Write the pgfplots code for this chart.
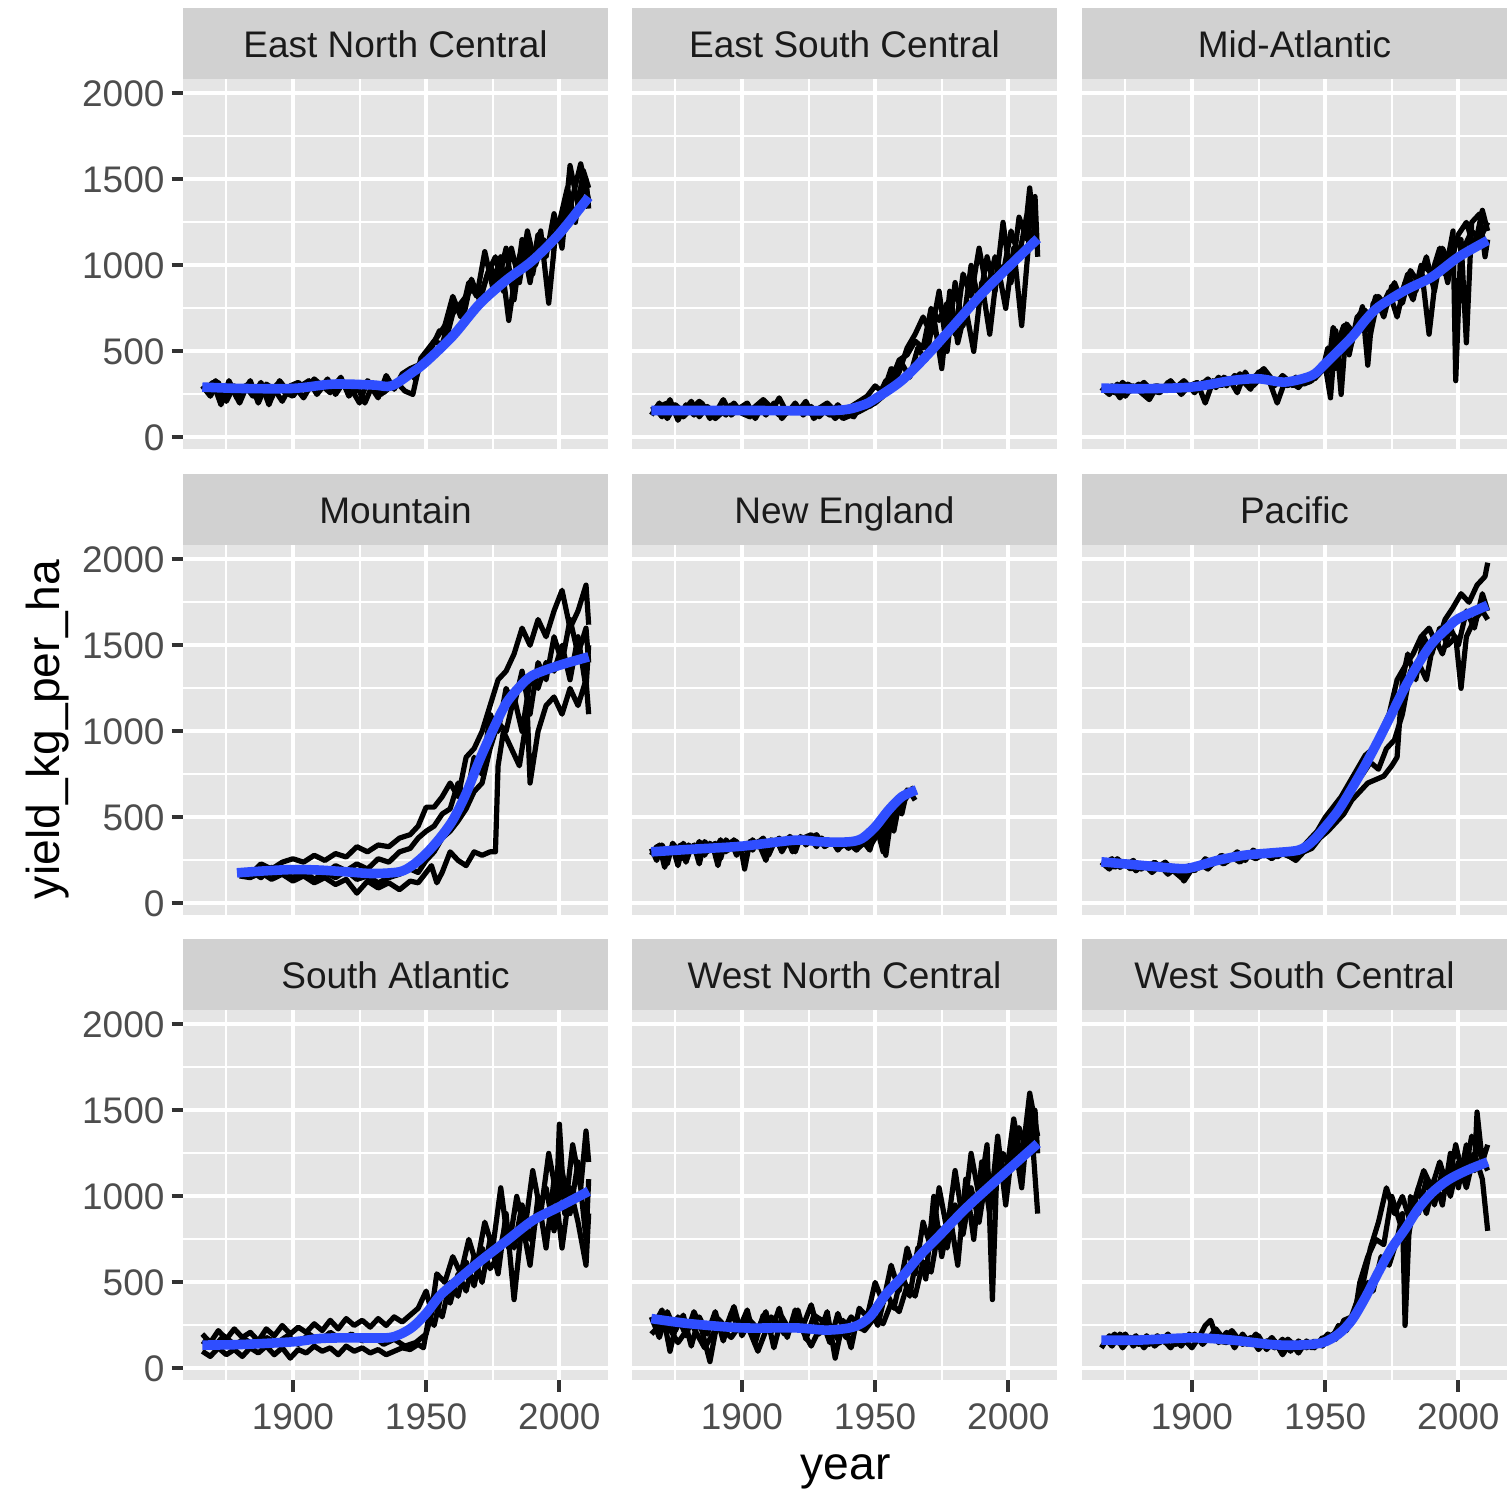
\documentclass[border=0pt]{standalone}
\usepackage{pgfplots}
\pgfplotsset{compat=1.18}
\usepackage{fontspec}
\setmainfont{Liberation Sans}
\definecolor{panelbg}{HTML}{E5E5E5}
\definecolor{stripbg}{HTML}{D1D1D1}
\definecolor{ticktext}{HTML}{4D4D4D}
\definecolor{striptext}{HTML}{1A1A1A}
\definecolor{tickcol}{HTML}{333333}
\definecolor{smoothblue}{HTML}{2F4EFF}
\newcommand\tfont{\fontsize{18.5}{20}\selectfont}
\pgfplotsset{
  ggpanel/.style={
    scale only axis, width=212.5pt, height=185pt,
    anchor=north west,
    xmin=1858.75, xmax=2018.25, ymin=-67, ymax=2083,
    axis background/.style={fill=panelbg},
    axis line style={draw=none},
    xtick={1900,1950,2000}, ytick={0,500,1000,1500,2000},
    minor xtick={1875,1925,1975}, minor ytick={250,750,1250,1750},
    grid=both,
    major grid style={white, line width=2pt},
    minor grid style={white, line width=1pt},
    tick align=outside, major tick length=5.75pt, minor tick length=0pt,
    xtick pos=left, ytick pos=left,
    tick style={tickcol, line width=2pt},
    xticklabels={1900,1950,2000}, yticklabels={0,500,1000,1500,2000},
    ticklabel style={font=\tfont, text=ticktext},
    xticklabel style={yshift=-2.5pt},
    every axis plot/.append style={line join=round, no markers},
  },
  noy/.style={yticklabels={}, ytick style={draw=none}},
  nox/.style={xticklabels={}, xtick style={draw=none}},
  blk/.style={black, line width=2.6pt},
  smth/.style={smoothblue, line width=4.8pt, smooth},
}
\begin{document}
\begin{tikzpicture}
\path[use as bounding box] (0pt,0pt) rectangle (755pt,-746.5pt);

% ---------------- Row 1 ----------------
% East North Central
\begin{axis}[ggpanel, nox, at={(91.5pt,-39.5pt)}]
\addplot[blk] coordinates {(1866,300)(1869,240)(1872,320)(1875,210)(1878,300)(1881,250)(1884,330)(1887,200)(1890,310)(1893,280)(1896,210)(1899,300)(1902,320)(1905,280)(1908,340)(1911,300)(1914,260)(1917,330)(1920,310)(1923,260)(1926,320)(1929,300)(1932,230)(1935,360)(1938,280)(1941,370)(1944,400)(1947,420)(1950,480)(1953,560)(1956,540)(1959,700)(1962,760)(1965,820)(1968,880)(1971,840)(1974,1000)(1977,900)(1980,1100)(1983,800)(1986,1150)(1989,900)(1992,1180)(1995,1050)(1998,1300)(2001,1100)(2004,1580)(2007,1350)(2010,1500)(2011,1330)};
\addplot[blk] coordinates {(1867,280)(1870,320)(1873,190)(1876,330)(1879,230)(1882,300)(1885,240)(1888,320)(1891,190)(1894,310)(1897,260)(1900,240)(1903,300)(1906,330)(1909,250)(1912,310)(1915,290)(1918,350)(1921,240)(1924,300)(1927,200)(1930,310)(1933,250)(1936,290)(1939,320)(1942,270)(1945,250)(1948,460)(1951,520)(1954,580)(1957,650)(1960,820)(1963,700)(1966,900)(1969,820)(1972,1080)(1975,870)(1978,1050)(1981,680)(1984,1000)(1987,1150)(1990,950)(1993,1200)(1996,780)(1999,1250)(2002,1200)(2005,1400)(2008,1590)(2011,1380)};
\addplot[blk] coordinates {(1868,260)(1871,330)(1874,230)(1877,290)(1880,200)(1883,310)(1886,250)(1889,290)(1892,230)(1895,330)(1898,270)(1901,290)(1904,230)(1907,310)(1910,280)(1913,340)(1916,250)(1919,320)(1922,280)(1925,200)(1928,330)(1931,290)(1934,260)(1937,300)(1940,330)(1943,380)(1946,340)(1949,470)(1952,520)(1955,620)(1958,600)(1961,780)(1964,700)(1967,920)(1970,800)(1973,950)(1976,1050)(1979,850)(1982,1100)(1985,900)(1988,1200)(1991,1000)(1994,1150)(1997,1100)(2000,1250)(2003,1450)(2006,1250)(2009,1550)(2011,1450)};
\addplot[smth] coordinates {(1866,293)(1880,285)(1900,285)(1915,310)(1930,305)(1937,300)(1945,380)(1950,440)(1960,590)(1970,775)(1980,913)(1990,1029)(2000,1184)(2011,1397)};
\end{axis}

% East South Central
\begin{axis}[ggpanel, nox, noy, at={(316pt,-39.5pt)}]
\addplot[blk] coordinates {(1866,130)(1869,200)(1872,110)(1875,190)(1878,150)(1881,210)(1884,120)(1887,180)(1890,140)(1893,220)(1896,130)(1899,170)(1902,200)(1905,110)(1908,190)(1911,150)(1914,230)(1917,140)(1920,200)(1923,130)(1926,180)(1929,120)(1932,170)(1935,110)(1938,160)(1941,180)(1944,210)(1947,240)(1950,300)(1953,260)(1956,400)(1959,380)(1962,520)(1965,600)(1968,700)(1971,600)(1974,850)(1977,500)(1980,900)(1983,650)(1986,1000)(1989,780)(1992,1050)(1995,850)(1998,1250)(2001,900)(2004,1280)(2007,1150)(2010,1400)(2011,1050)};
\addplot[blk] coordinates {(1867,180)(1870,120)(1873,220)(1876,100)(1879,190)(1882,130)(1885,200)(1888,110)(1891,170)(1894,130)(1897,200)(1900,140)(1903,120)(1906,190)(1909,130)(1912,200)(1915,110)(1918,170)(1921,150)(1924,210)(1927,110)(1930,160)(1933,130)(1936,190)(1939,140)(1942,120)(1945,200)(1948,180)(1951,230)(1954,330)(1957,300)(1960,430)(1963,350)(1966,520)(1969,450)(1972,700)(1975,400)(1978,850)(1981,550)(1984,750)(1987,500)(1990,900)(1993,600)(1996,1000)(1999,750)(2002,1100)(2005,650)(2008,1200)(2011,1100)};
\addplot[blk] coordinates {(1866,160)(1872,200)(1878,120)(1884,210)(1890,110)(1896,190)(1902,140)(1908,220)(1914,130)(1920,180)(1926,140)(1932,200)(1938,110)(1944,150)(1950,200)(1953,240)(1956,330)(1959,450)(1962,480)(1965,560)(1968,520)(1971,750)(1974,680)(1977,780)(1980,600)(1983,950)(1986,820)(1989,1100)(1992,850)(1995,1050)(1998,950)(2001,1200)(2004,1050)(2007,1300)(2008,1450)(2010,1150)};
\addplot[smth] coordinates {(1866,157)(1900,157)(1935,157)(1945,186)(1950,225)(1960,331)(1970,486)(1980,660)(1990,835)(2000,990)(2011,1155)};
\end{axis}

% Mid-Atlantic
\begin{axis}[ggpanel, nox, noy, at={(541pt,-39.5pt)}]
\addplot[blk] coordinates {(1866,290)(1869,250)(1872,310)(1875,240)(1878,300)(1881,260)(1884,220)(1887,300)(1890,280)(1893,310)(1896,250)(1899,300)(1902,320)(1905,200)(1908,330)(1911,300)(1914,340)(1917,260)(1920,380)(1923,300)(1926,350)(1929,330)(1932,200)(1935,330)(1938,300)(1941,340)(1944,320)(1947,380)(1950,420)(1952,230)(1954,620)(1956,250)(1958,660)(1961,600)(1964,760)(1966,420)(1968,780)(1971,750)(1974,850)(1977,700)(1980,900)(1983,800)(1986,1000)(1989,600)(1992,1000)(1995,950)(1998,1200)(1999,330)(2001,1150)(2003,550)(2005,1250)(2008,1300)(2010,1050)(2011,1150)};
\addplot[blk] coordinates {(1867,270)(1870,300)(1873,230)(1876,310)(1879,280)(1882,320)(1885,270)(1888,260)(1891,320)(1894,290)(1897,330)(1900,280)(1903,300)(1906,340)(1909,290)(1912,350)(1915,320)(1918,370)(1921,310)(1924,360)(1927,400)(1930,340)(1933,320)(1936,300)(1939,350)(1942,310)(1945,330)(1948,400)(1951,380)(1953,640)(1955,560)(1957,650)(1960,550)(1963,720)(1966,650)(1969,820)(1972,700)(1975,880)(1978,800)(1981,950)(1984,850)(1987,1000)(1990,950)(1993,1100)(1996,900)(1999,1150)(2002,1100)(2005,1200)(2008,1150)(2011,1250)};
\addplot[blk] coordinates {(1868,300)(1871,260)(1874,320)(1877,270)(1880,310)(1883,250)(1886,300)(1889,280)(1892,330)(1895,270)(1898,310)(1901,260)(1904,320)(1907,290)(1910,350)(1913,300)(1916,360)(1919,330)(1922,280)(1925,380)(1928,350)(1931,300)(1934,360)(1937,320)(1940,290)(1943,350)(1946,340)(1949,390)(1951,520)(1954,400)(1957,600)(1959,480)(1962,700)(1965,740)(1967,600)(1970,820)(1973,760)(1976,900)(1979,780)(1982,970)(1985,900)(1988,1050)(1991,850)(1994,1100)(1997,1000)(2000,1180)(2003,1250)(2006,1100)(2009,1320)(2011,1200)};
\addplot[smth] coordinates {(1866,287)(1880,283)(1900,293)(1915,331)(1925,341)(1935,322)(1945,360)(1950,428)(1960,583)(1965,680)(1970,758)(1980,855)(1990,932)(2000,1048)(2011,1145)};
\end{axis}

% ---------------- Row 2 ----------------
% Mountain
\begin{axis}[ggpanel, nox, at={(91.5pt,-272.5pt)}]
\addplot[blk] coordinates {(1880,180)(1884,170)(1888,230)(1892,200)(1896,240)(1900,260)(1904,240)(1908,280)(1912,250)(1916,290)(1920,270)(1924,330)(1928,300)(1932,340)(1936,330)(1940,380)(1944,400)(1947,450)(1950,560)(1953,560)(1956,620)(1959,700)(1962,620)(1965,850)(1968,900)(1971,1000)(1974,1150)(1977,1300)(1980,1350)(1983,1450)(1986,1600)(1989,1500)(1992,1650)(1995,1550)(1998,1700)(2001,1820)(2004,1600)(2007,1700)(2010,1850)(2011,1620)};
\addplot[blk] coordinates {(1880,170)(1884,190)(1888,150)(1892,210)(1896,170)(1900,200)(1904,160)(1908,210)(1912,170)(1916,220)(1920,190)(1924,230)(1928,200)(1932,260)(1936,240)(1940,300)(1944,320)(1947,380)(1950,420)(1953,450)(1956,520)(1959,550)(1962,700)(1965,600)(1968,850)(1971,750)(1974,1100)(1977,1000)(1980,1250)(1983,1150)(1986,1350)(1989,1100)(1992,1400)(1995,1300)(1998,1550)(2001,1400)(2004,1650)(2007,1450)(2010,1600)(2011,1400)};
\addplot[blk] coordinates {(1880,160)(1884,150)(1888,180)(1892,140)(1896,170)(1900,130)(1904,160)(1908,120)(1912,150)(1916,110)(1920,140)(1924,60)(1928,130)(1932,90)(1936,120)(1940,80)(1944,130)(1947,120)(1950,180)(1952,220)(1954,120)(1956,180)(1959,300)(1962,250)(1965,220)(1968,300)(1971,280)(1974,300)(1976,300)(1977,800)(1979,1000)(1982,900)(1985,800)(1988,1100)(1989,700)(1992,1000)(1995,1150)(1998,1200)(2001,1100)(2004,1250)(2007,1150)(2010,1300)(2011,1100)};
\addplot[blk] coordinates {(1880,190)(1884,160)(1888,200)(1892,170)(1896,190)(1900,150)(1904,190)(1908,140)(1912,180)(1916,150)(1920,190)(1924,140)(1928,160)(1932,120)(1936,150)(1940,170)(1944,200)(1947,180)(1950,250)(1953,300)(1956,380)(1959,420)(1962,480)(1965,550)(1968,650)(1971,700)(1974,900)(1977,1050)(1980,1000)(1983,1200)(1986,1000)(1989,1300)(1992,1250)(1995,1400)(1998,1350)(2001,1500)(2004,1300)(2007,1550)(2010,1250)(2011,1500)};
\addplot[smth] coordinates {(1879,178)(1890,190)(1900,197)(1910,194)(1920,184)(1930,174)(1940,184)(1945,223)(1950,290)(1955,377)(1960,484)(1965,639)(1970,832)(1975,1007)(1980,1162)(1985,1258)(1990,1326)(2000,1384)(2011,1433)};
\end{axis}

% New England
\begin{axis}[ggpanel, nox, noy, at={(316pt,-272.5pt)}]
\addplot[blk] coordinates {(1866,320)(1868,250)(1870,340)(1872,280)(1874,330)(1876,220)(1878,350)(1880,300)(1882,340)(1884,230)(1886,360)(1888,320)(1890,350)(1892,260)(1894,370)(1896,330)(1898,360)(1900,290)(1901,200)(1903,360)(1905,340)(1908,380)(1910,320)(1913,370)(1915,300)(1918,390)(1920,350)(1923,380)(1926,400)(1929,350)(1932,370)(1935,340)(1938,360)(1941,330)(1944,370)(1947,350)(1949,400)(1951,420)(1953,300)(1955,480)(1957,420)(1959,580)(1961,620)(1963,650)(1965,600)};
\addplot[blk] coordinates {(1867,290)(1869,340)(1871,210)(1873,320)(1875,300)(1877,340)(1879,240)(1881,330)(1883,310)(1885,350)(1887,300)(1889,340)(1891,220)(1893,350)(1895,310)(1897,370)(1899,330)(1902,350)(1904,310)(1906,360)(1909,250)(1911,370)(1914,340)(1917,380)(1919,300)(1922,370)(1925,360)(1928,400)(1931,330)(1934,360)(1937,330)(1940,350)(1943,310)(1946,360)(1948,330)(1950,380)(1952,450)(1954,280)(1956,500)(1958,550)(1960,520)(1962,660)(1964,640)(1965,660)};
\addplot[blk] coordinates {(1866,280)(1868,330)(1870,300)(1872,230)(1874,350)(1876,310)(1878,260)(1880,340)(1882,300)(1884,360)(1886,280)(1888,350)(1890,310)(1892,370)(1894,300)(1896,360)(1898,280)(1900,340)(1902,300)(1904,370)(1906,330)(1908,360)(1910,280)(1912,350)(1914,380)(1916,330)(1918,360)(1920,300)(1922,390)(1924,340)(1926,370)(1928,330)(1930,380)(1932,340)(1934,360)(1936,310)(1938,350)(1940,320)(1942,360)(1944,330)(1946,350)(1948,310)(1950,420)(1952,380)(1954,500)(1956,430)(1958,600)(1960,580)(1962,620)(1964,670)(1965,630)};
\addplot[smth] coordinates {(1866,300)(1880,314)(1900,333)(1920,368)(1930,358)(1940,358)(1945,377)(1950,445)(1955,542)(1960,620)(1965.5,660)};
\end{axis}

% Pacific
\begin{axis}[ggpanel, nox, noy, at={(541pt,-272.5pt)}]
\addplot[blk] coordinates {(1866,240)(1869,200)(1872,260)(1875,220)(1878,250)(1881,200)(1884,230)(1887,210)(1890,240)(1893,190)(1896,150)(1899,220)(1902,200)(1905,260)(1908,230)(1911,280)(1914,260)(1917,300)(1920,250)(1923,310)(1926,280)(1929,300)(1932,270)(1935,300)(1938,260)(1941,320)(1944,370)(1947,420)(1950,500)(1953,560)(1956,620)(1959,700)(1962,780)(1965,860)(1968,900)(1971,1000)(1974,1100)(1977,1300)(1980,1380)(1983,1450)(1986,1550)(1989,1600)(1992,1500)(1995,1650)(1998,1720)(2001,1800)(2004,1750)(2007,1850)(2010,1900)(2011,1980)};
\addplot[blk] coordinates {(1867,230)(1870,260)(1873,210)(1876,240)(1879,190)(1882,230)(1885,180)(1888,220)(1891,170)(1894,210)(1897,130)(1900,200)(1903,230)(1906,200)(1909,250)(1912,230)(1915,270)(1918,240)(1921,280)(1924,260)(1927,290)(1930,260)(1933,300)(1936,280)(1939,250)(1942,300)(1945,320)(1948,380)(1951,420)(1954,470)(1957,520)(1960,600)(1963,650)(1966,700)(1969,720)(1972,740)(1975,800)(1977,850)(1979,1300)(1981,1450)(1984,1300)(1987,1550)(1990,1450)(1993,1600)(1996,1500)(1999,1550)(2001,1250)(2003,1550)(2006,1650)(2009,1700)(2011,1650)};
\addplot[blk] coordinates {(1868,250)(1871,210)(1874,240)(1877,200)(1880,230)(1883,210)(1886,240)(1889,200)(1892,220)(1895,180)(1898,210)(1901,190)(1904,240)(1907,220)(1910,260)(1913,240)(1916,280)(1919,260)(1922,290)(1925,270)(1928,300)(1931,280)(1934,290)(1937,270)(1940,300)(1943,340)(1946,360)(1949,450)(1952,520)(1955,560)(1958,640)(1961,700)(1964,750)(1967,820)(1970,780)(1973,900)(1976,950)(1979,1100)(1982,1350)(1985,1400)(1988,1300)(1991,1550)(1994,1450)(1997,1600)(2000,1500)(2003,1700)(2006,1600)(2009,1800)(2011,1700)};
\addplot[smth] coordinates {(1866,242)(1880,223)(1895,203)(1900,209)(1910,252)(1920,281)(1930,294)(1940,310)(1945,358)(1950,445)(1955,542)(1960,668)(1965,803)(1970,949)(1975,1104)(1980,1258)(1985,1394)(1990,1510)(1995,1588)(2000,1655)(2011,1733)};
\end{axis}

% ---------------- Row 3 ----------------
% South Atlantic
\begin{axis}[ggpanel, at={(91.5pt,-505pt)}]
\addplot[blk] coordinates {(1866,200)(1869,150)(1872,220)(1875,170)(1878,230)(1881,180)(1884,210)(1887,160)(1890,230)(1893,190)(1896,250)(1899,200)(1902,240)(1905,210)(1908,260)(1911,220)(1914,280)(1917,230)(1920,290)(1923,250)(1926,280)(1929,240)(1932,290)(1935,250)(1938,300)(1941,270)(1944,310)(1947,350)(1950,450)(1952,330)(1954,550)(1957,500)(1960,650)(1963,550)(1966,750)(1969,600)(1972,850)(1975,700)(1978,1050)(1981,700)(1984,1000)(1987,800)(1990,1150)(1993,900)(1996,1250)(1999,1000)(2000,1420)(2002,900)(2005,1300)(2008,1050)(2010,1380)(2011,1200)};
\addplot[blk] coordinates {(1866,100)(1869,70)(1872,120)(1875,80)(1878,110)(1881,70)(1884,120)(1887,90)(1890,130)(1893,80)(1896,120)(1899,60)(1902,110)(1905,90)(1908,130)(1911,100)(1914,120)(1917,80)(1920,130)(1923,100)(1926,120)(1929,90)(1932,110)(1935,80)(1938,100)(1941,120)(1944,110)(1947,140)(1949,120)(1951,300)(1953,250)(1956,450)(1959,380)(1962,550)(1965,450)(1968,650)(1971,500)(1974,750)(1977,550)(1980,900)(1983,400)(1986,850)(1989,600)(1992,1000)(1995,700)(1998,1100)(2001,700)(2004,1050)(2007,850)(2010,600)(2011,900)};
\addplot[blk] coordinates {(1866,160)(1870,120)(1874,190)(1878,140)(1882,170)(1886,130)(1890,180)(1894,150)(1898,190)(1902,140)(1906,200)(1910,160)(1914,210)(1918,170)(1922,200)(1926,160)(1930,190)(1934,140)(1938,170)(1942,130)(1946,150)(1950,200)(1953,380)(1956,300)(1959,500)(1962,420)(1965,620)(1968,480)(1971,700)(1974,580)(1977,650)(1980,850)(1983,700)(1986,950)(1989,750)(1992,900)(1995,1050)(1998,800)(2001,1150)(2004,900)(2007,1200)(2010,750)(2011,1100)};
\addplot[smth] coordinates {(1866,136)(1880,139)(1900,155)(1910,174)(1920,178)(1935,178)(1940,197)(1945,242)(1950,320)(1955,420)(1960,490)(1970,620)(1980,740)(1990,860)(2000,940)(2011,1030)};
\end{axis}

% West North Central
\begin{axis}[ggpanel, noy, at={(316pt,-505pt)}]
\addplot[blk] coordinates {(1866,300)(1869,180)(1872,330)(1875,220)(1878,310)(1881,130)(1884,300)(1887,200)(1890,330)(1893,160)(1896,320)(1899,230)(1902,340)(1905,150)(1908,310)(1911,210)(1914,350)(1917,180)(1920,340)(1923,250)(1926,370)(1929,200)(1932,330)(1935,60)(1938,280)(1941,120)(1944,350)(1947,300)(1950,500)(1953,380)(1956,600)(1959,450)(1962,700)(1965,550)(1968,850)(1971,700)(1974,1050)(1977,800)(1980,1150)(1983,850)(1986,1250)(1989,1000)(1992,1300)(1994,400)(1996,1300)(1999,1100)(2002,1450)(2005,1200)(2008,1600)(2011,1350)};
\addplot[blk] coordinates {(1867,250)(1870,340)(1873,100)(1876,300)(1879,190)(1882,330)(1885,220)(1888,40)(1891,290)(1894,240)(1897,360)(1900,190)(1903,280)(1906,230)(1909,330)(1912,120)(1915,300)(1918,220)(1921,340)(1924,170)(1927,310)(1930,280)(1933,150)(1936,320)(1939,180)(1942,250)(1945,230)(1948,350)(1951,250)(1954,450)(1957,350)(1960,550)(1963,420)(1966,700)(1969,520)(1972,1000)(1975,650)(1978,900)(1981,600)(1984,1100)(1987,750)(1990,1200)(1993,900)(1996,1350)(1999,950)(2002,1350)(2005,1050)(2008,1550)(2011,900)};
\addplot[blk] coordinates {(1866,200)(1871,280)(1876,150)(1881,260)(1886,120)(1891,250)(1896,180)(1901,290)(1906,100)(1911,300)(1916,200)(1921,270)(1926,130)(1931,290)(1936,170)(1941,300)(1946,220)(1950,300)(1953,260)(1956,380)(1959,330)(1962,480)(1965,420)(1968,620)(1971,560)(1974,820)(1977,700)(1980,950)(1983,780)(1986,1050)(1989,850)(1992,1150)(1995,1050)(1998,1250)(2001,1150)(2004,1400)(2007,1250)(2010,1500)(2011,1250)};
\addplot[smth] coordinates {(1866,290)(1880,261)(1900,236)(1920,236)(1932,223)(1942,242)(1948,300)(1954,430)(1960,530)(1967,660)(1974,770)(1984,930)(1996,1100)(2011,1307)};
\end{axis}

% West South Central
\begin{axis}[ggpanel, noy, at={(541pt,-505pt)}]
\addplot[blk] coordinates {(1866,120)(1869,190)(1872,150)(1875,200)(1878,130)(1881,180)(1884,140)(1887,190)(1890,150)(1893,180)(1896,130)(1899,200)(1902,160)(1905,250)(1907,280)(1910,150)(1913,210)(1916,120)(1919,200)(1922,140)(1925,190)(1928,110)(1931,160)(1934,80)(1937,150)(1940,90)(1943,160)(1946,120)(1949,180)(1952,160)(1955,250)(1958,220)(1961,350)(1964,480)(1967,700)(1970,850)(1973,1050)(1976,900)(1979,1000)(1982,850)(1985,1050)(1988,900)(1991,1100)(1994,950)(1997,1250)(2000,1050)(2003,1300)(2006,1150)(2007,1490)(2009,1200)(2011,1300)};
\addplot[blk] coordinates {(1867,180)(1870,130)(1873,200)(1876,150)(1879,190)(1882,120)(1885,180)(1888,150)(1891,200)(1894,140)(1897,170)(1900,120)(1903,190)(1906,170)(1909,230)(1912,170)(1915,220)(1918,160)(1921,140)(1924,200)(1927,130)(1930,180)(1933,120)(1936,170)(1939,130)(1942,150)(1945,120)(1948,150)(1951,200)(1954,170)(1957,280)(1960,300)(1963,380)(1966,500)(1968,450)(1971,650)(1974,600)(1977,750)(1979,900)(1980,250)(1982,1000)(1985,900)(1988,1100)(1991,950)(1994,1150)(1997,1000)(2000,1200)(2003,1050)(2006,1250)(2009,1100)(2011,800)};
\addplot[blk] coordinates {(1868,150)(1871,200)(1874,120)(1877,180)(1880,140)(1883,190)(1886,130)(1889,170)(1892,120)(1895,180)(1898,150)(1901,200)(1904,140)(1907,190)(1910,160)(1913,150)(1916,190)(1919,140)(1922,180)(1925,110)(1928,160)(1931,120)(1934,170)(1937,100)(1940,160)(1943,120)(1946,160)(1949,130)(1952,190)(1955,220)(1958,250)(1961,300)(1963,500)(1966,650)(1969,750)(1972,720)(1975,1000)(1978,850)(1981,750)(1984,1000)(1987,1150)(1990,1050)(1993,1200)(1996,1050)(1999,1300)(2002,1100)(2005,1350)(2008,1250)(2011,1150)};
\addplot[smth] coordinates {(1866,165)(1880,165)(1900,178)(1915,165)(1930,139)(1940,136)(1949,150)(1955,200)(1960,280)(1965,410)(1970,560)(1975,700)(1980,810)(1985,930)(1990,1020)(1996,1094)(2003,1150)(2011,1200)};
\end{axis}

% ---------------- Strips ----------------
\tikzset{striplabel/.style={anchor=base, font=\tfont, text=striptext, inner sep=0pt}}
\foreach \x/\y/\t in {91.5/-39.5/East North Central, 316/-39.5/East South Central, 541/-39.5/Mid-Atlantic,
                      91.5/-272.5/Mountain, 316/-272.5/New England, 541/-272.5/Pacific,
                      91.5/-505/South Atlantic, 316/-505/West North Central, 541/-505/West South Central}{
  \fill[stripbg] (\x pt,\y pt) rectangle ++(212.5pt,35.5pt);
  \node[striplabel] at ([xshift=106.25pt, yshift=10.6pt]\x pt,\y pt) {\t};
}

% ---------------- Axis titles ----------------
\node[anchor=base, font=\fontsize{23.1}{25}\selectfont] at (422.75pt,-739.5pt) {year};
\node[anchor=base, rotate=90, font=\fontsize{23.1}{25}\selectfont] at (29.5pt,-364.75pt) {yield\_kg\_per\_ha};
\end{tikzpicture}
\end{document}
